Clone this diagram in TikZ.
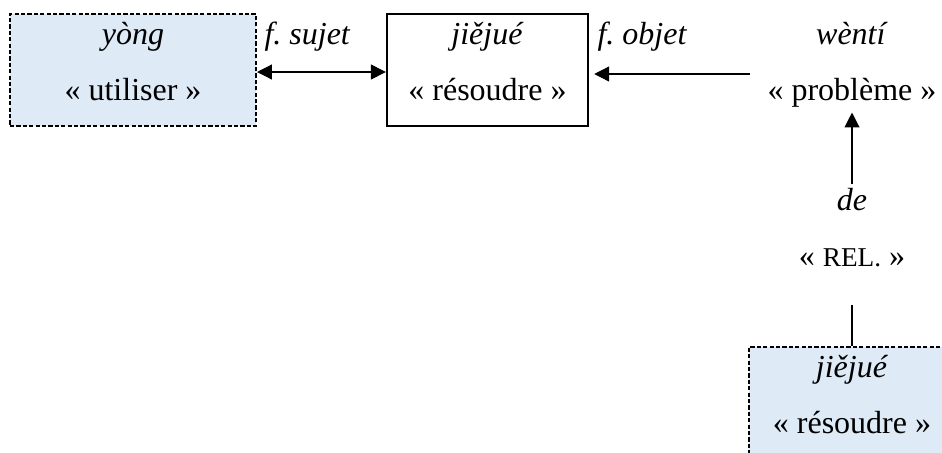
\documentclass[tikz,border=0pt]{standalone}
\usepackage{fontspec}
\setmainfont{Liberation Serif}
\usetikzlibrary{arrows.meta,positioning}
\definecolor{boxblue}{HTML}{DEEAF6}

\tikzset{
  word/.style={align=center, inner xsep=0pt, inner ysep=0pt,
    text height=32.25pt, text depth=9.75pt, font=\fontsize{12}{21}\selectfont},
  solidbox/.style={word, draw, line width=0.85pt},
  dashbox/.style={word, draw, fill=boxblue, line width=0.75pt, dash pattern=on 1.6pt off 0.8pt},
  lbl/.style={font=\fontsize{12}{21}\selectfont\itshape, inner sep=0pt},
  link/.style={line width=0.45pt},
}

\begin{document}
\begin{tikzpicture}[x=0.375pt, y=-0.375pt, >={Triangle[length=5.6pt,width=5.6pt]}]
	\path[use as bounding box] (0,0) rectangle (942,452);
	\clip (0,0) rectangle (942,452);
	% top row
	\node[dashbox, minimum width=92.25pt] (yong) at (133,70) {\textit{yòng}\\« utiliser »};
	\node[solidbox, minimum width=75.4pt] (jiejue) at (487.5,70) {\textit{jiějué}\\« résoudre »};
	\node[word, minimum width=75.4pt] (wenti) at (852,70) {\textit{wèntí}\\« problème »};
	% relative marker
	\node[word, text height=30.75pt, text depth=13.9pt] (de) at (852,244.5) {\textit{de}\\« {\fontsize{10.2}{21}\selectfont REL.} »};
	% second verb, cut by the page edge
	\node[dashbox, minimum width=77.25pt] (jiejue2) at (852,403) {\textit{jiějué}\\« résoudre »};
	% functions
	\node[lbl, anchor=base west] (subj) at (264,44) {f.\ sujet};
	\node[lbl, anchor=base west] (obj) at (597,44) {f.\ objet};
	% connectors
	\draw[link, <->] ([yshift=-0.75pt]yong.east) -- ([yshift=-0.75pt]jiejue.west);
	\draw[link, ->, shorten <=0.5pt, shorten >=1.9pt] ([yshift=-1.5pt]wenti.west) -- ([yshift=-1.5pt]jiejue.east);
	\draw[link, ->, shorten >=-5.25pt] (de.north) -- (wenti.south);
	\draw[link] (de.south) -- (jiejue2.north);
\end{tikzpicture}
\end{document}
